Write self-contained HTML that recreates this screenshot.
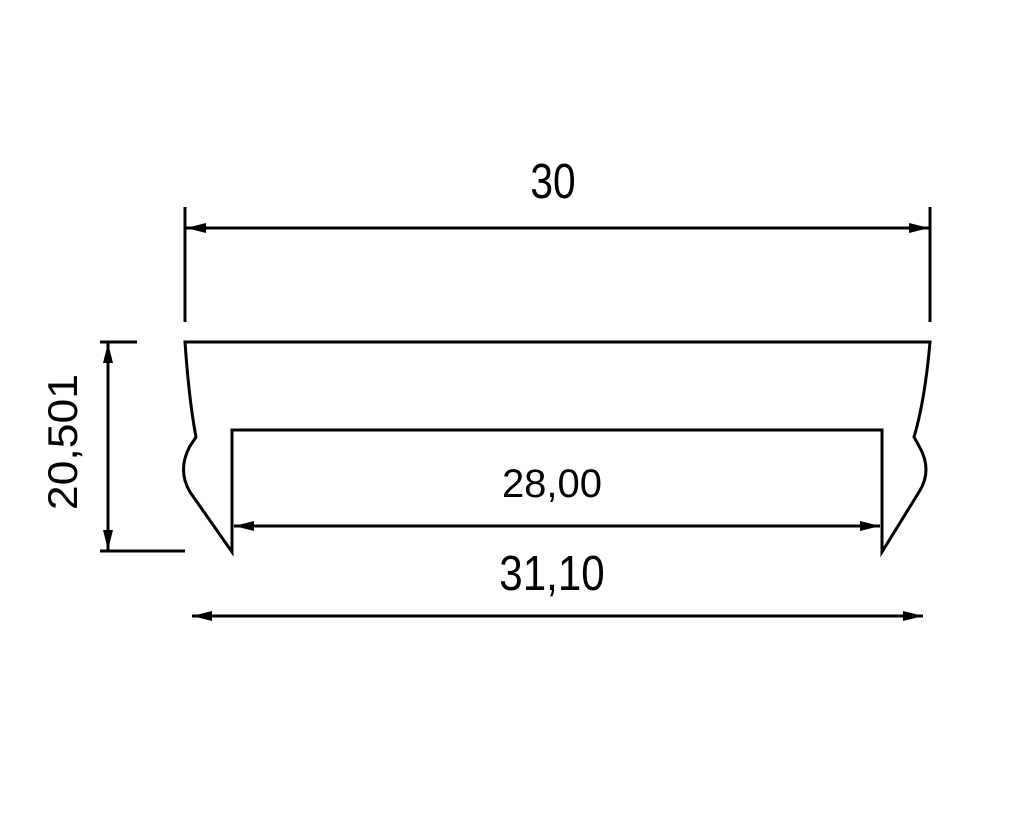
<!DOCTYPE html>
<html><head><meta charset="utf-8"><style>html,body{margin:0;padding:0;background:#fff}</style></head>
<body>
<svg width="1024" height="818" viewBox="0 0 1024 818" xmlns="http://www.w3.org/2000/svg">
<defs>
<marker id="a" viewBox="0 0 20 10" refX="20" refY="5" markerWidth="20" markerHeight="10" markerUnits="userSpaceOnUse" orient="auto-start-reverse">
<path d="M0,0 L20,5 L0,10 Z" fill="#000"/>
</marker>
</defs>
<g stroke="#000" stroke-width="3" fill="none" stroke-linejoin="miter">
<path d="M232,552 L232,430 L882,430 L882,552 L919,492 Q933,470 919,446 L914,437 Q925,400 930,342 L185,342 Q189,400 196,437 L190,446 Q177,470 190,492 Z"/>
<line x1="185" y1="207" x2="185" y2="322"/>
<line x1="930" y1="207" x2="930" y2="322"/>
<line x1="186" y1="228" x2="929" y2="228" marker-start="url(#a)" marker-end="url(#a)"/>
<line x1="100" y1="342" x2="137" y2="342"/>
<line x1="100" y1="551" x2="185" y2="551"/>
<line x1="108" y1="343" x2="108" y2="550" marker-start="url(#a)" marker-end="url(#a)"/>
<line x1="234" y1="526" x2="880" y2="526" marker-start="url(#a)" marker-end="url(#a)"/>
<line x1="192" y1="616" x2="923" y2="616" marker-start="url(#a)" marker-end="url(#a)"/>
</g>
<g font-family="Liberation Sans, sans-serif" fill="#000" text-anchor="middle">
<text x="0" y="0" font-size="49" transform="translate(553,198) scale(0.83,1)">30</text>
<text x="552" y="497" font-size="40">28,00</text>
<text x="0" y="0" font-size="49" transform="translate(552,590) scale(0.86,1)">31,10</text>
<text x="0" y="0" font-size="42" transform="translate(77,442) rotate(-90) scale(1.06,1)">20,501</text>
</g>
</svg>
</body></html>
